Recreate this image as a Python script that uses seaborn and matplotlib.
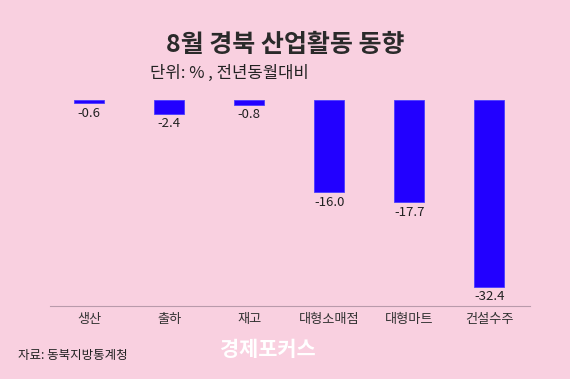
import matplotlib
matplotlib.use("Agg")
import matplotlib.pyplot as plt
import seaborn as sns
import pandas as pd

# 8월 경북 산업활동 동향 (전년동월대비, %)
categories = ['생산', '출하', '재고', '대형소매점', '대형마트', '건설수주']
values = [-0.6, -2.4, -0.8, -16.0, -17.7, -32.4]

df = pd.DataFrame({'item': categories, 'value': values})

sns.set_style('white')
plt.rcParams['font.family'] = ['Noto Sans CJK KR', 'DejaVu Sans']

bg = '#f9d0e0'
fig = plt.figure(figsize=(5.7, 3.79), dpi=100, facecolor=bg)
ax = fig.add_axes([50 / 570, 1 - 306 / 379, 480 / 570, 206 / 379])
ax.set_facecolor(bg)

sns.barplot(data=df, x='item', y='value', color='#2200ff', width=0.375,
            saturation=1, edgecolor='#4a3cff', linewidth=0.6, ax=ax)

ax.set_ylim(-35.7, 0)
ax.set_xlim(-0.49, 5.51)
ax.set_xlabel('')
ax.set_ylabel('')
ax.set_yticks([])
for s in ['top', 'left', 'right']:
    ax.spines[s].set_visible(False)
ax.spines['bottom'].set_color('#b99aab')
ax.spines['bottom'].set_linewidth(0.8)
ax.tick_params(axis='x', length=0, pad=5, labelsize=9.5, labelcolor='#333333')

for i, v in enumerate(values):
    ax.text(i, v - 0.6, f'{v:.1f}', ha='center', va='top', fontsize=9.5, color='#222222')

fig.text(0.5, 1 - 45 / 379, '8월 경북 산업활동 동향', ha='center', va='center',
         fontsize=18, fontweight='heavy', color='#2a2a2a')
fig.text(150 / 570, 1 - 73 / 379, '단위: % , 전년동월대비', ha='left', va='center',
         fontsize=12, color='#222222')
fig.text(18 / 570, 1 - 355 / 379, '자료: 동북지방통계청', ha='left', va='center',
         fontsize=9, color='#222222')
fig.text(220 / 570, 1 - 350 / 379, '경제포커스', ha='left', va='center',
         fontsize=15, fontweight='bold', color='white')

fig.savefig('out.png', dpi=100, facecolor=bg)
